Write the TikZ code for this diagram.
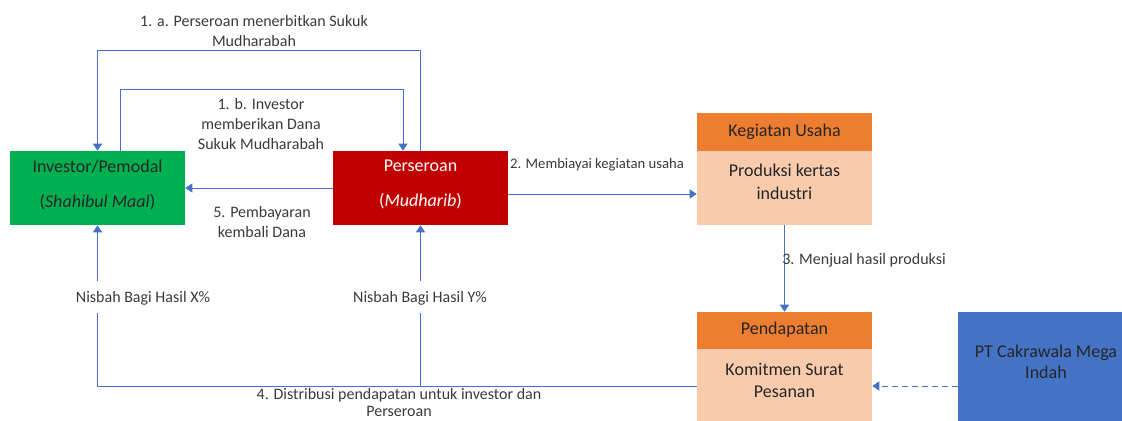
\documentclass[tikz,border=0pt]{standalone}
\usepackage{fontspec}
\setmainfont{Carlito}
\usetikzlibrary{arrows.meta}
\definecolor{cgreen}{HTML}{00B050}
\definecolor{cred}{HTML}{C00000}
\definecolor{corange}{HTML}{ED7D31}
\definecolor{cpeach}{HTML}{F8CBAD}
\definecolor{cblue}{HTML}{4472C4}
\definecolor{cline}{HTML}{4472C4}
\definecolor{ctext}{HTML}{262626}
\definecolor{clabel}{HTML}{3A3A3A}
\tikzset{
  box/.style={rectangle, draw=none, inner sep=0pt, minimum width=131.25pt},
  boxtext/.style={align=center, text=ctext, font=\fontsize{13.5}{17.25}\selectfont, inner sep=0pt},
  lbl/.style={align=center, text=clabel, font=\fontsize{12}{15}\selectfont, inner sep=0pt},
  arr/.style={draw=cline, line width=0.75pt, -{Triangle[length=5.25pt,width=6.75pt]}},
  plain/.style={draw=cline, line width=0.75pt}
}
\begin{document}
\begin{tikzpicture}[x=0.75pt,y=-0.75pt]
\useasboundingbox (0,0) rectangle (1122,421);
% boxes
\node[box, fill=cgreen, minimum height=55.5pt] (inv) at (97.5,188) {};
\node[box, fill=cred, minimum height=55.5pt] (pers) at (420.5,188) {};
\node[box, fill=corange, minimum height=28.5pt] (kh) at (784.5,132) {};
\node[box, fill=cpeach, minimum height=55.5pt] (kb) at (784.5,188) {};
\node[box, fill=corange, minimum height=27.75pt] (ph) at (784.5,330.5) {};
\node[box, fill=cpeach, minimum height=54pt] (pb) at (784.5,385) {};
\node[box, fill=cblue, minimum width=123pt, minimum height=81.75pt] (pt) at (1040,366.5) {};
% box texts
\node[boxtext, font=\fontsize{13.5}{26.25}\selectfont] (invt) at (97.5,184.5) {Investor/Pemodal\\(\textit{Shahibul Maal})};
\node[boxtext, text=white, font=\fontsize{13.5}{26.25}\selectfont] (perst) at (420.5,184.5) {Perseroan\\(\textit{Mudharib})};
\node[boxtext] (kht) at (784.5,132) {Kegiatan Usaha};
\node[boxtext] (kbt) at (784.5,181.5) {Produksi kertas\\industri};
\node[boxtext] (pht) at (784.5,330) {Pendapatan};
\node[boxtext, font=\fontsize{13.5}{16.5}\selectfont] (pbt) at (784.5,380) {Komitmen Surat\\Pesanan};
\node[boxtext, font=\fontsize{13.5}{15.75}\selectfont] (ptt) at (1046,361.5) {PT Cakrawala Mega\\Indah};
% helper coordinates
\coordinate (a1) at (0,50);
\coordinate (b1) at (120,89);
\coordinate (b2) at (403,89);
\coordinate (c2) at (0,194);
\coordinate (d4) at (0,386);
\coordinate (g1) at (0,313);
\coordinate (g2) at (0,281);
% connectors
\draw[arr] (pers.north) -- (pers.north |- a1) -| (inv.north);
\draw[arr] (inv.north -| b1) -- (b1) -- (b2) -- (pers.north -| b2);
\draw[arr] (pers.west) -- (inv.east);
\draw[arr] (pers.east |- c2) -- (kb.west |- c2);
\draw[arr] (kb.south) -- (ph.north);
\draw[plain] (pb.west |- d4) -- (inv.south |- d4) -- (inv.south |- g1);
\draw[arr] (inv.south |- g2) -- (inv.south);
\draw[plain] (pers.south |- d4) -- (pers.south |- g1);
\draw[arr] (pers.south |- g2) -- (pers.south);
\draw[arr, dashed, dash pattern=on 4.5pt off 3pt] (pt.west |- d4) -- (pb.east |- d4);
% labels
\node[lbl] (l1a) at (254,31) {1. a. Perseroan menerbitkan Sukuk\\Mudharabah};
\node[lbl] (l1b) at (261,124) {1. b. Investor\\memberikan Dana\\Sukuk Mudharabah};
\node[lbl] (l5) at (262,222.5) {5. Pembayaran\\kembali Dana};
\node[lbl, font=\fontsize{11}{14}\selectfont] (l2) at (597,165) {2. Membiayai kegiatan usaha};
\node[lbl, anchor=west] (l3) at (782,260) {3. Menjual hasil produksi};
\node[lbl] (lx) at (143,298) {Nisbah Bagi Hasil X\%};
\node[lbl] (ly) at (420,298) {Nisbah Bagi Hasil Y\%};
\node[lbl, font=\fontsize{12}{13}\selectfont] (l4) at (399,402.5) {4. Distribusi pendapatan untuk investor dan\\Perseroan};
\end{tikzpicture}
\end{document}
